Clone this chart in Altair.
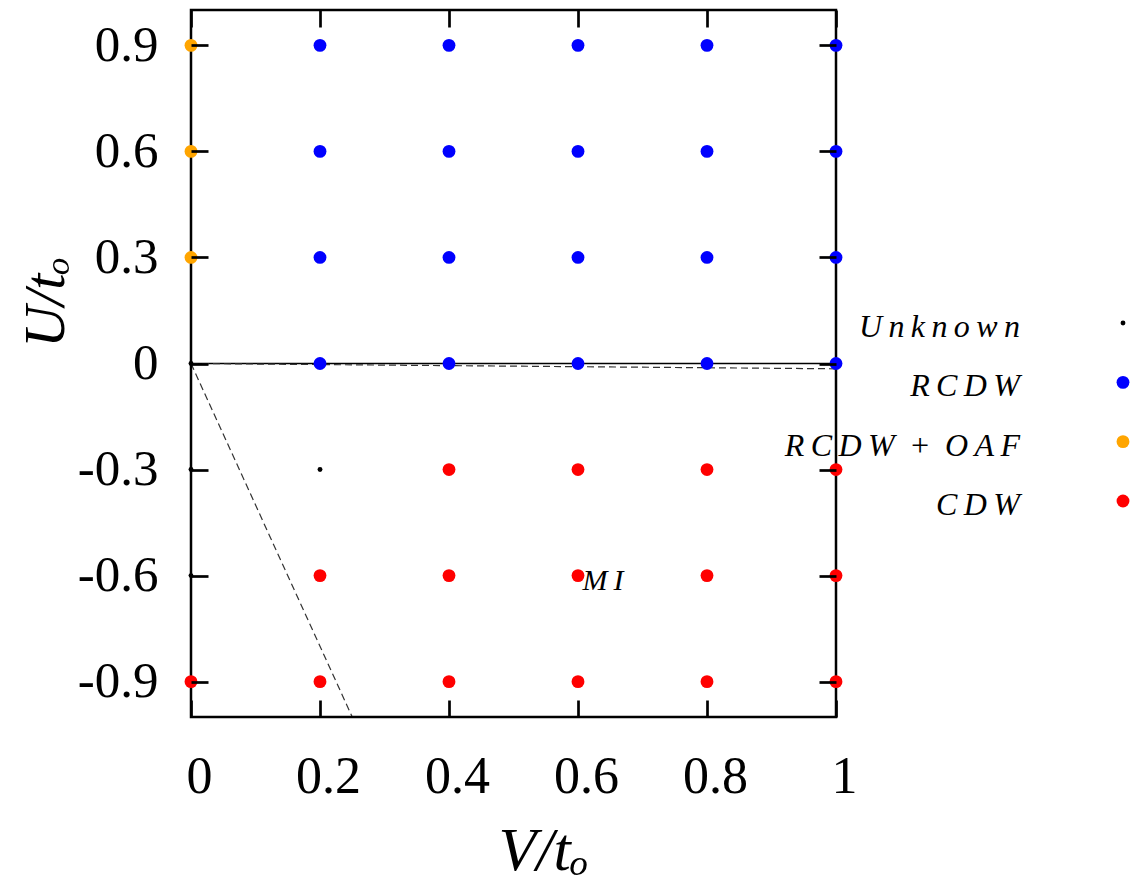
import altair as alt
import pandas as pd

SERIF = "Liberation Serif"
TS = "\u2009"  # thin space (LaTeX-like letter spacing of math italic)

# ---------------- data ----------------
v_values = [0.0, 0.2, 0.4, 0.6, 0.8, 1.0]
u_values = [0.9, 0.6, 0.3, 0.0, -0.3, -0.6, -0.9]

# phase for each V column, listed for U from top (0.9) to bottom (-0.9)
phase_v00 = ["RCDW + OAF", "RCDW + OAF", "RCDW + OAF", "Unknown", "Unknown", "Unknown", "CDW"]
phase_v02 = ["RCDW", "RCDW", "RCDW", "RCDW", "Unknown", "CDW", "CDW"]
phase_v04 = ["RCDW", "RCDW", "RCDW", "RCDW", "CDW", "CDW", "CDW"]
phase_v06 = ["RCDW", "RCDW", "RCDW", "RCDW", "CDW", "CDW", "CDW"]
phase_v08 = ["RCDW", "RCDW", "RCDW", "RCDW", "CDW", "CDW", "CDW"]
phase_v10 = ["RCDW", "RCDW", "RCDW", "RCDW", "CDW", "CDW", "CDW"]
phase_columns = [phase_v00, phase_v02, phase_v04, phase_v06, phase_v08, phase_v10]

legend_order = ["Unknown", "RCDW", "RCDW + OAF", "CDW"]
legend_colors = ["#000000", "#0000ff", "#ffa500", "#ff0000"]
legend_sizes = [24, 165, 165, 165]

# boundary lines
solid_v = [0.0, 1.0]
solid_u = [0.0, 0.0]
dash1_v = [0.0, 1.0]
dash1_u = [0.0, -0.015]
dash2_v = [0.0, 0.25]
dash2_u = [0.0, -1.0]

# annotation
mi_text = ["MI"]
mi_v = [0.607]
mi_u = [-0.642]

x_ticks = [0.0, 0.2, 0.4, 0.6, 0.8, 1.0]
x_tick_labels = ["0", "0.2", "0.4", "0.6", "0.8", "1"]
y_ticks = [-0.9, -0.6, -0.3, 0.0, 0.3, 0.6, 0.9]
y_tick_labels = ["-0.9", "-0.6", "-0.3", "0", "0.3", "0.6", "0.9"]

# ---------------- tables ----------------
rows = []
for v, col in zip(v_values, phase_columns):
    for u, p in zip(u_values, col):
        rows.append({"V": v, "U": u, "phase": p})
pts = pd.DataFrame(rows)


def spaced(s):
    return (TS + " + " + TS).join(TS.join(list(w)) for w in s.split(" + "))


leg = pd.DataFrame({"phase": legend_order, "label": [spaced(s) for s in legend_order]})
mi = pd.DataFrame({"V": mi_v, "U": mi_u, "t": [spaced(s) for s in mi_text]})


def lookup_expr(vals, labels):
    return "[{}][indexof([{}], datum.value)]".format(
        ",".join("'{}'".format(l) for l in labels), ",".join(repr(v) for v in vals))


W, H = 645, 707
TL = 17  # inward tick length

xs = alt.Scale(domain=[0, 1], nice=False, zero=False)
ys = alt.Scale(domain=[-1, 1], nice=False, zero=False)
cs = alt.Scale(type="ordinal", domain=legend_order, range=legend_colors)
ss = alt.Scale(type="ordinal", domain=legend_order, range=legend_sizes)

tick_common = dict(ticks=True, tickSize=TL, tickWidth=2.7, tickColor="#000000", tickOpacity=1,
                   offset=-TL, domain=False, grid=False, labelFlush=False, labelOverlap=False,
                   zindex=1)

x_axis = alt.Axis(orient="bottom", values=x_ticks,
                  labelExpr=lookup_expr(x_ticks, x_tick_labels),
                  labelFont=SERIF, labelFontSize=52, labelColor="black", labelPadding=75,
                  labelBaseline="alphabetic", labelOffset=8,
                  title="V/t\u2092", titleFont=SERIF, titleFontSize=62, titleFontStyle="italic",
                  titleFontWeight="normal", titleColor="black", titleX=352, titleY=152 + TL,
                  titleBaseline="alphabetic", titleAlign="center", **tick_common)
y_axis = alt.Axis(orient="left", values=y_ticks,
                  labelExpr=lookup_expr(y_ticks, y_tick_labels),
                  labelFont=SERIF, labelFontSize=51, labelColor="black", labelPadding=33,
                  title="U/t\u2092", titleFont=SERIF, titleFontSize=58, titleFontStyle="italic",
                  titleFontWeight="normal", titleColor="black", titleAngle=270,
                  titleX=-128 - TL, titleY=292, titleBaseline="alphabetic", titleAlign="center",
                  **tick_common)
x_axis_top = alt.Axis(orient="top", values=x_ticks, labels=False, title=None, **tick_common)
y_axis_right = alt.Axis(orient="right", values=y_ticks, labels=False, title=None, **tick_common)


def line_layer(vs, us, xa, ya, dash=None, color="black", width=1.5):
    df = pd.DataFrame({"V": vs, "U": us})
    kw = dict(color=color, strokeWidth=width)
    if dash:
        kw["strokeDash"] = dash
    return alt.Chart(df).mark_line(**kw).encode(
        x=alt.X("V:Q", scale=xs, axis=xa), y=alt.Y("U:Q", scale=ys, axis=ya))


solid = line_layer(solid_v, solid_u, x_axis, y_axis, color="black", width=1.5)
dash1 = line_layer(dash1_v, dash1_u, x_axis_top, y_axis_right, dash=[7, 4],
                   color="#333333", width=1.2)
dash2 = line_layer(dash2_v, dash2_u, None, None, dash=[7, 4], color="#333333", width=1.2)

frame = alt.Chart(pd.DataFrame({"a": [0]})).mark_rect(
    fill="transparent", stroke="black", strokeWidth=2.5).encode(
    x=alt.value(0), x2=alt.value(W), y=alt.value(0), y2=alt.value(H))

points = alt.Chart(pts).mark_circle(opacity=1).encode(
    x=alt.X("V:Q", scale=xs, axis=None), y=alt.Y("U:Q", scale=ys, axis=None),
    color=alt.Color("phase:N", scale=cs, legend=None),
    size=alt.Size("phase:N", scale=ss, legend=None))

mi_layer = alt.Chart(mi).mark_text(align="left", baseline="alphabetic", font=SERIF,
                                   fontStyle="italic", fontSize=30, color="black").encode(
    x=alt.X("V:Q", scale=xs, axis=None), y=alt.Y("U:Q", scale=ys, axis=None), text="t:N")

main = alt.layer(solid, dash1, dash2, frame, points, mi_layer).resolve_axis(
    x="independent", y="independent").properties(width=W, height=H)

# ---------------- legend panel ----------------
LW = 290
leg_y = alt.Y("phase:N", scale=alt.Scale(domain=legend_order, range=[313, 491], padding=0),
              axis=None)
leg_text = alt.Chart(leg).mark_text(align="right", baseline="alphabetic", dy=14, font=SERIF,
                                    fontStyle="italic", fontSize=32, color="black").encode(
    y=leg_y, x=alt.value(184), text="label:N")
leg_sym = alt.Chart(leg).mark_circle(opacity=1).encode(
    y=leg_y, x=alt.value(287),
    color=alt.Color("phase:N", scale=cs, legend=None),
    size=alt.Size("phase:N", scale=ss, legend=None))
legend_panel = alt.layer(leg_text, leg_sym).properties(width=LW, height=H)

chart = alt.hconcat(main, legend_panel, spacing=0, bounds="flush").properties(
    padding={"left": 9, "top": 0, "right": 0, "bottom": 0}
).configure_view(strokeWidth=0)

chart.save("out.html", embed_options={"renderer": "svg", "actions": False})
